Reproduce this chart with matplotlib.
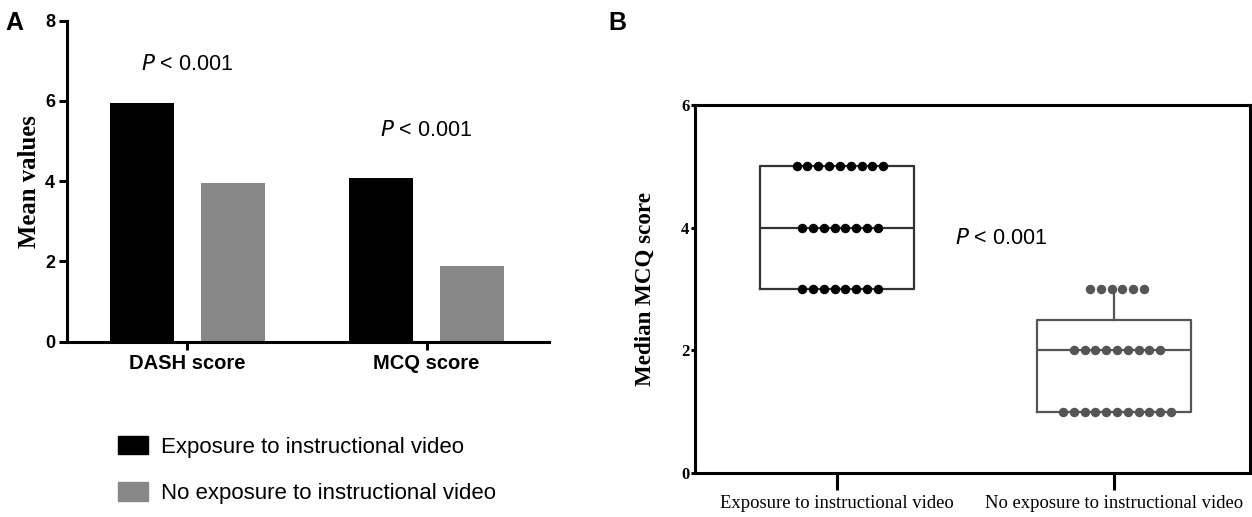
import numpy as np
import matplotlib
matplotlib.use("Agg")
import matplotlib.pyplot as plt
from matplotlib.patches import Patch

# panel A: mean values
categories = ["DASH score", "MCQ score"]
exposure_means = [5.95, 4.08]
no_exposure_means = [3.96, 1.89]
group_labels = ["Exposure to instructional video", "No exposure to instructional video"]

# panel B: MCQ scores per participant, as score -> count
exp_scores = [5, 4, 3]
exp_counts = [9, 8, 8]
noexp_scores = [3, 2, 1]
noexp_counts = [6, 9, 11]

# box statistics as drawn in the original (GraphPad style)
box_q1 = [3, 1]
box_med = [4, 2]
box_q3 = [5, 2.5]
box_lo = [3, 1]
box_hi = [5, 3]

BLACK = "#000000"
GRAY = "#878787"
DARK = "#555555"
serif = ["Times New Roman", "Liberation Serif", "DejaVu Serif"]
sans = ["Arial", "Liberation Sans", "DejaVu Sans"]

plt.rcParams["font.family"] = sans

fig = plt.figure(figsize=(12.52, 5.17), dpi=100)

# ---------------- Panel A ----------------
axA = fig.add_axes([0.0539, 0.339, 0.3843, 0.621])
x = np.arange(len(categories))
w = 0.268
axA.bar(x - 0.19, exposure_means, w, color=BLACK)
axA.bar(x + 0.19, no_exposure_means, w, color=GRAY)
axA.set_xlim(-0.5, 1.51)
axA.set_ylim(0, 8)
axA.set_yticks([0, 2, 4, 6, 8])
axA.set_xticks(x)
axA.set_xticklabels(categories, fontsize=14.5, fontweight="bold")
for lab in axA.get_yticklabels():
    lab.set_fontweight("bold")
    lab.set_fontsize(13)
axA.spines["top"].set_visible(False)
axA.spines["right"].set_visible(False)
for s in ["left", "bottom"]:
    axA.spines[s].set_linewidth(2.2)
axA.tick_params(axis="both", width=2.2, length=6, pad=3)
axA.set_ylabel("Mean values", fontsize=17.8, fontweight="bold", family=serif, labelpad=3)

axA.text(0, 6.9, r"$\it{P}$" + " < 0.001", ha="center", va="center", fontsize=15.5)
axA.text(1.0, 5.27, r"$\it{P}$" + " < 0.001", ha="center", va="center", fontsize=15.5)

fig.text(0.004, 0.955, "A", fontsize=18, fontweight="bold", ha="left", va="center")

handles = [Patch(facecolor=BLACK, edgecolor=BLACK), Patch(facecolor=GRAY, edgecolor=GRAY)]
fig.legend(handles, group_labels, loc="upper left", bbox_to_anchor=(0.0942, 0.157),
           frameon=False, fontsize=16, handlelength=1.35, handleheight=0.9,
           labelspacing=1.1, handletextpad=0.6, borderpad=0, borderaxespad=0)

# ---------------- Panel B ----------------
axB = fig.add_axes([0.5551, 0.0851, 0.4433, 0.7118])
stats = []
for i in range(2):
    stats.append(dict(q1=box_q1[i], med=box_med[i], q3=box_q3[i],
                      whislo=box_lo[i], whishi=box_hi[i], fliers=[]))
bp = axB.bxp(stats, positions=[1, 2], widths=0.556, showfliers=False, patch_artist=False)
box_colors = ["#333333", DARK]
for i, c in enumerate(box_colors):
    for key in ["boxes", "medians"]:
        bp[key][i].set_color(c)
        bp[key][i].set_linewidth(1.6)
    for k in [2 * i, 2 * i + 1]:
        bp["whiskers"][k].set_color(c)
        bp["whiskers"][k].set_linewidth(1.6)
        bp["caps"][k].set_visible(False)

spacing = 0.039
for pos, scores, counts, col in [(1, exp_scores, exp_counts, BLACK),
                                 (2, noexp_scores, noexp_counts, DARK)]:
    for sc, n in zip(scores, counts):
        xs = pos + 0.01 + (np.arange(n) - (n - 1) / 2) * spacing
        axB.plot(xs, [sc] * n, "o", color=col, markersize=5.8, zorder=3)

axB.set_xlim(0.487, 2.49)
axB.set_ylim(0, 6)
axB.set_yticks([0, 2, 4, 6])
axB.set_xticks([1, 2])
axB.set_xticklabels(group_labels, family=serif, fontsize=13.4)
for lab in axB.get_yticklabels():
    lab.set_family(serif)
    lab.set_fontweight("bold")
    lab.set_fontsize(12)
for s in axB.spines.values():
    s.set_linewidth(2.2)
axB.tick_params(axis="y", width=2.2, length=3, pad=1)
axB.tick_params(axis="x", width=2.2, length=12, pad=4)
axB.set_ylabel("Median MCQ score", fontsize=16.6, fontweight="bold", family=serif, labelpad=18)
axB.text(1.59, 3.83, r"$\it{P}$" + " < 0.001", ha="center", va="center", fontsize=15.5)

fig.text(0.486, 0.955, "B", fontsize=18, fontweight="bold", ha="left", va="center")

fig.savefig("out.png", dpi=100)
